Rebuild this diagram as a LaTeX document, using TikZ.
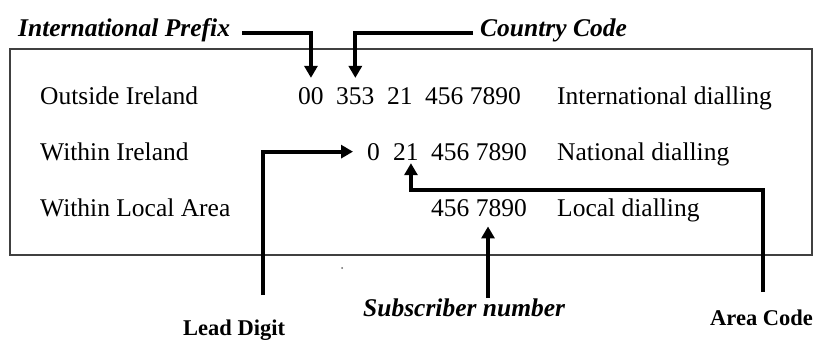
\documentclass[tikz,border=0pt]{standalone}
\usepackage{fontspec}
\setmainfont{Liberation Serif}
\usetikzlibrary{arrows.meta}

\begin{document}
\begin{tikzpicture}[x=1pt,y=-1pt,
  txt/.style={inner sep=0pt,anchor=base west,font=\fontsize{25.5}{30}\selectfont},
  lbl/.style={inner sep=0pt,anchor=base west,font=\fontsize{25.5}{30}\selectfont\bfseries\itshape},
  tag/.style={inner sep=0pt,anchor=base west,font=\fontsize{22.5}{27}\selectfont\bfseries},
  arr/.style={line width=4pt,-{Triangle[length=12pt,width=13pt]}}]
\useasboundingbox (0,0) rectangle (816,340);
\draw[line width=1.5pt,black!75](10,49) rectangle (812,255);
% rows
\node[txt] (out) at (40,104) {Outside Ireland};
\node[txt] (n00) at (298,104) {00};
\node[txt] (n353) at (336,104) {353};
\node[txt] (n21a) at (387,104) {21};
\node[txt] (loca) at (425,104) {456 7890};
\node[txt] (intl) at (557,104) {International dialling};
\node[txt] (win) at (40,160) {Within Ireland};
\node[txt] (n0) at (367,160) {0};
\node[txt] (n21b) at (393,160) {21};
\node[txt] (locb) at (431,160) {456 7890};
\node[txt] (natl) at (557,160) {National dialling};
\node[txt] (wla) at (40,216) {Within Local Area};
\node[txt] (locc) at (431,216) {456 7890};
\node[txt] (locl) at (557,216) {Local dialling};
% labels
\node[lbl] (pfx) at (18,36) {International Prefix};
\node[lbl] (cc) at (480,36) {Country Code};
\node[lbl] (sub) at (363,316) {Subscriber number};
\node[tag] (lead) at (183,335) {Lead Digit};
\node[tag] (area) at (710,325) {Area Code};
\coordinate (leadtop) at (263,295);
\coordinate (areatop) at (763,292);
\coordinate (subbot) at (488,298);
\coordinate (areabend) at ([xshift=5pt,yshift=-30pt]n21b.south);
% arrows
\draw[arr]([xshift=12pt,yshift=-3pt]pfx.east) -| ([yshift=9pt]n00.north);
\draw[arr]([xshift=-7pt,yshift=-3pt]cc.west) -| ([yshift=9pt]n353.north);
\draw[arr](leadtop) |- ([xshift=-14pt]n0.west);
\draw[arr,shorten >=3pt](areatop) |- (areabend) -- ([xshift=5pt]n21b.south);
\draw[arr,shorten >=10pt](subbot) -- (subbot |- locc.south);
\fill[black!60](342,268) circle (1pt);
\end{tikzpicture}
\end{document}
